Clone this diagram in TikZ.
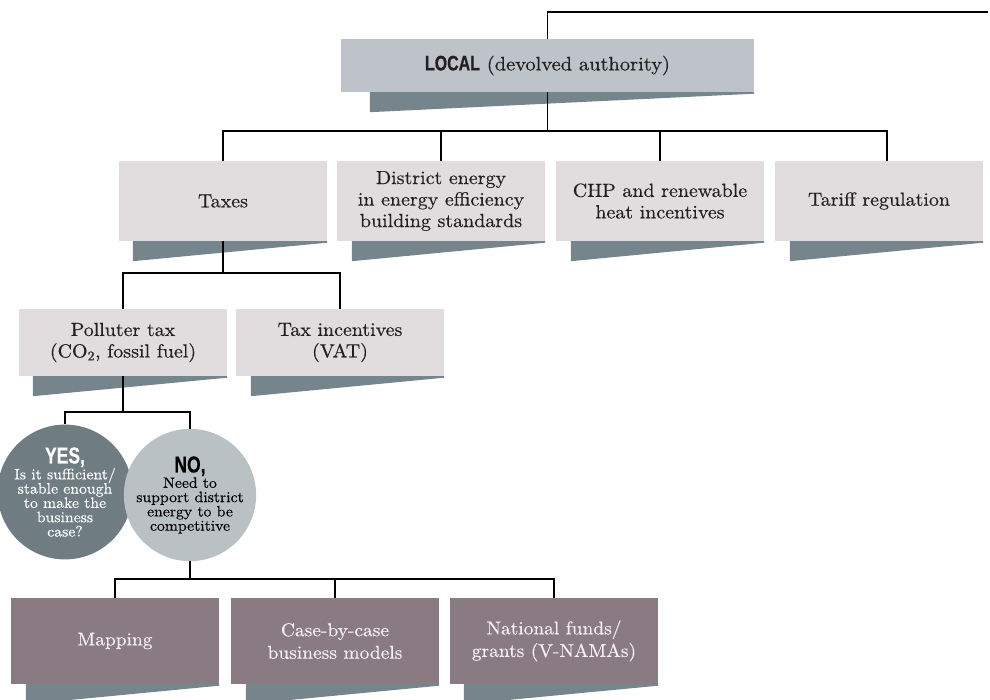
\documentclass[tikz,border=0pt]{standalone}
\usepackage{fontspec}
\setmainfont{lmroman10-regular.otf}[FakeStretch=1.05,FakeBold=0.4]
\newfontfamily\headfont{Liberation Sans}[FakeStretch=0.76,FakeBold=0.6]
\usetikzlibrary{positioning,calc}
\definecolor{localgray}{HTML}{BDC3C8}
\definecolor{shadegray}{HTML}{76858C}
\definecolor{paper}{HTML}{E1DCDD}
\definecolor{fundmauve}{HTML}{8A7B83}
\definecolor{yesgray}{HTML}{6F7D83}
\definecolor{nogray}{HTML}{BAC1C5}
\definecolor{inkdark}{HTML}{231F20}
\definecolor{paleink}{HTML}{F4F1F2}
\tikzset{
  headbox/.style={fill=localgray,minimum width=413pt,minimum height=53pt,
    inner sep=0pt,text=inkdark,font=\fontsize{19.5}{24}\selectfont},
  policybox/.style={fill=paper,minimum width=208pt,minimum height=80pt,
    inner sep=0pt,align=center,text=inkdark,font=\fontsize{19}{21.5}\selectfont},
  fundbox/.style={fill=fundmauve,minimum width=208pt,minimum height=86pt,
    inner sep=0pt,align=center,text=paleink,font=\fontsize{18.5}{22.5}\selectfont},
  answerdot/.style={circle,inner sep=0pt,align=center,
    font=\fontsize{15}{14.3}\selectfont},
  boxshade/.style={fill=shadegray},
  branch/.style={line width=1.9pt,draw=black}
}
\newcommand{\yesno}[1]{{\headfont\bfseries\fontsize{23}{23}\selectfont #1}}

\begin{document}
\begin{tikzpicture}[x=1pt,y=-1pt]
\path[use as bounding box] (0,0) rectangle (990,699);
% authority and its instruments
\node[headbox] (local) at (547.5,65.5) {{\headfont\bfseries\fontsize{21}{24}\selectfont LOCAL} (devolved authority)};
\node[policybox] (taxes) at (223,201) {Taxes};
\node[policybox] (district) at (441,201) {District energy\\in energy efficiency\\building standards};
\node[policybox] (chp) at (660,201) {CHP and renewable\\heat incentives};
\node[policybox] (tariff) at (879,201) {Tariff regulation};
\node[policybox,minimum height=67pt] (polluter) at (123,342.5) {Polluter tax\\(CO\textsubscript{2}, fossil fuel)};
\node[policybox,minimum height=67pt] (taxinc) at (340,342.5) {Tax incentives\\(VAT)};
% answers
\node[answerdot,fill=yesgray,text=white,minimum size=116pt] (yes) at (65,492)
  {\yesno{YES,}\\Is it sufficient/\\stable enough\\to make the\\business\\case?};
\node[answerdot,fill=nogray,text=black,minimum size=120pt] (no) at (190,495)
  {\yesno{NO,}\\[1pt]Need to\\support district\\energy to be\\competitive};
% support measures
\node[fundbox] (mapping) at (115,641) {Mapping};
\node[fundbox] (casebycase) at (335,641) {Case-by-case\\business models};
\node[fundbox] (grants) at (554,641) {National funds/\\grants (V-NAMAs)};
% shadows under the boxes
\foreach \b/\off in {local/29,taxes/14,district/15,chp/15,tariff/15,
    polluter/14,taxinc/15,mapping/15,casebycase/15,grants/14}
  \fill[boxshade] ($(\b.south west)+(\off,0)$) -- (\b.south east)
    -- ($(\b.south east)+(0,1.5)$) -- ($(\b.south west)+(\off,20)$) -- cycle;
% connectors
\coordinate (topend) at (988,12);
\coordinate (split1) at (547.5,131);
\coordinate (split2) at ($(taxes.south)+(0,32)$);
\coordinate (split3) at ($(polluter.south)+(0,36)$);
\coordinate (split4) at ($(no.south)+(0,18)$);
\draw[branch] (topend) -| (local.north);
\draw[branch] (local.south) -- (split1);
\draw[branch] (taxes.north) |- (split1) -| ([xshift=8pt]tariff.north);
\draw[branch] (district.north) -- (district.north |- split1);
\draw[branch] (chp.north) -- (chp.north |- split1);
\draw[branch] (taxes.south) -- (split2);
\draw[branch] (polluter.north) |- (split2) -| (taxinc.north);
\draw[branch] (polluter.south) -- (split3);
\draw[branch] (yes.north) |- (split3) -| (no.north);
\draw[branch] (no.south) -- (split4);
\draw[branch] (mapping.north) |- (split4) -| (grants.north);
\draw[branch] (casebycase.north) -- (casebycase.north |- split4);
\end{tikzpicture}
\end{document}
